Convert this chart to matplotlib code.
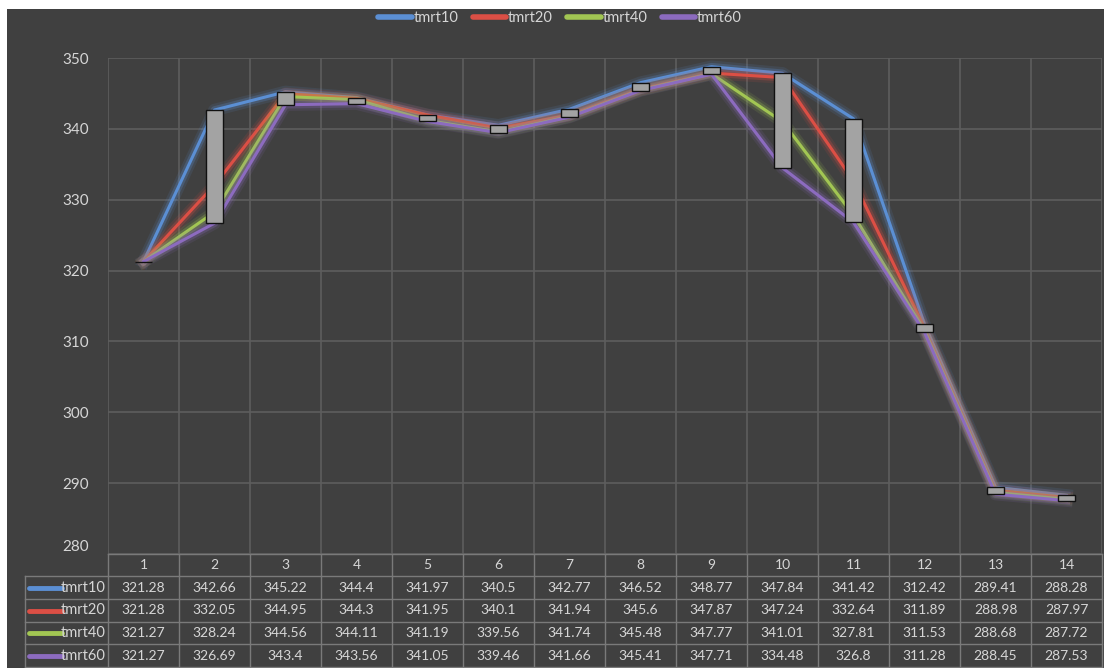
#!/usr/bin/env python3
"""Excel-style line chart with up-down bars and a data table (dark theme)."""

import matplotlib

matplotlib.use("Agg")
import matplotlib.pyplot as plt
import matplotlib.patheffects as pe
from matplotlib.patches import Rectangle
from matplotlib.lines import Line2D
import numpy as np

plt.rcParams["font.family"] = ["Lato", "DejaVu Sans"]

categories = [str(i) for i in range(1, 15)]
series_names = ["tmrt10", "tmrt20", "tmrt40", "tmrt60"]
tmrt10 = [321.28, 342.66, 345.22, 344.4, 341.97, 340.5, 342.77, 346.52, 348.77, 347.84, 341.42, 312.42, 289.41, 288.28]
tmrt20 = [321.28, 332.05, 344.95, 344.3, 341.95, 340.1, 341.94, 345.6, 347.87, 347.24, 332.64, 311.89, 288.98, 287.97]
tmrt40 = [321.27, 328.24, 344.56, 344.11, 341.19, 339.56, 341.74, 345.48, 347.77, 341.01, 327.81, 311.53, 288.68, 287.72]
tmrt60 = [321.27, 326.69, 343.4, 343.56, 341.05, 339.46, 341.66, 345.41, 347.71, 334.48, 326.8, 311.28, 288.45, 287.53]
series = [tmrt10, tmrt20, tmrt40, tmrt60]
colors = ["#5b8fd4", "#dc4f45", "#a2c653", "#8c6bbf"]

BG = "#404040"
GRID = "#5e5e5e"
TXT = "#d6d6d6"
TBL = "#7a7a7a"

W, H = 1104, 668
fig = plt.figure(figsize=(W / 100, H / 100), dpi=100, facecolor="white")
fig.patches.append(Rectangle((7 / W, 0), 1 - 7 / W, 1 - 9 / H, transform=fig.transFigure,
                             facecolor=BG, edgecolor="none", zorder=-10))


def fx(px):
    return px / W


def fy(py):
    return 1 - py / H


left, right, top, bottom = 108, 1102, 58, 554
ax = fig.add_axes([fx(left), fy(bottom), fx(right - left), fy(top) - fy(bottom)])
ax.set_facecolor(BG)
x = np.arange(1, len(categories) + 1)
ax.set_xlim(0.5, len(categories) + 0.5)
ax.set_ylim(280, 350)
ax.set_yticks(range(280, 351, 10))
ax.set_xticks(np.arange(0.5, len(categories) + 1, 1.0))
ax.set_xticklabels([])
ax.tick_params(axis="both", length=0, colors=TXT, labelsize=11)
ax.tick_params(axis="y", pad=14)
ax.grid(True, color=GRID, linewidth=1.2)
for s in ax.spines.values():
    s.set_visible(False)
# Excel nudges the bottom label up above the data table
ax.get_yticklabels()[0].set_va("bottom")

for vals, col, name in zip(series, colors, series_names):
    ax.plot(x, vals, color=col, linewidth=2.2, zorder=3, label=name,
            path_effects=[pe.Stroke(linewidth=9, foreground=col, alpha=0.12),
                          pe.Stroke(linewidth=5.5, foreground=col, alpha=0.25),
                          pe.Normal()])

# up-down bars between first and last series
bw = 0.23
for xi, a, b in zip(x, tmrt10, tmrt60):
    lo, hi = min(a, b), max(a, b)
    ax.add_patch(Rectangle((xi - bw / 2, lo), bw, hi - lo, facecolor="#a3a3a3",
                           edgecolor="#111111", linewidth=1.0, zorder=4))

# legend
handles = [Line2D([0], [0], color=c, linewidth=4, solid_capstyle="round") for c in colors]
fig.legend(handles, series_names, loc="center", bbox_to_anchor=(fx(560), fy(18)), ncol=4,
           frameon=False, fontsize=10.5, labelcolor=TXT, handlelength=2.3, handletextpad=0.1,
           columnspacing=1.0)

# data table
row_top = [554, 576, 599, 622, 644]
row_bot = [576, 599, 622, 644, 667]
colw = (right - left) / len(categories)
tab_left = 25


def hline(y, x0, x1):
    fig.add_artist(Line2D([fx(x0), fx(x1)], [fy(y), fy(y)], color=TBL, linewidth=1.0))


def vline(xp, y0, y1):
    fig.add_artist(Line2D([fx(xp), fx(xp)], [fy(y0), fy(y1)], color=TBL, linewidth=1.0))


hline(row_top[0], left, right)
for y in row_bot:
    hline(y, tab_left, right)
for i in range(len(categories) + 1):
    vline(left + i * colw, row_top[0], row_bot[-1])
vline(tab_left, row_top[1], row_bot[-1])

for i, c in enumerate(categories):
    fig.text(fx(left + (i + 0.5) * colw), fy((row_top[0] + row_bot[0]) / 2), c,
             ha="center", va="center", color=TXT, fontsize=10)

for r, (vals, col, name) in enumerate(zip(series, colors, series_names)):
    yc = fy((row_top[r + 1] + row_bot[r + 1]) / 2)
    fig.add_artist(Line2D([fx(29), fx(62)], [yc, yc], color=col, linewidth=3.5,
                          solid_capstyle="round"))
    fig.text(fx(106), yc, name, ha="right", va="center", color=TXT, fontsize=10.5)
    for i, v in enumerate(vals):
        fig.text(fx(left + (i + 0.5) * colw), yc, f"{v:g}", ha="center", va="center",
                 color=TXT, fontsize=10)

fig.savefig("out.png", dpi=100, facecolor=fig.get_facecolor())
